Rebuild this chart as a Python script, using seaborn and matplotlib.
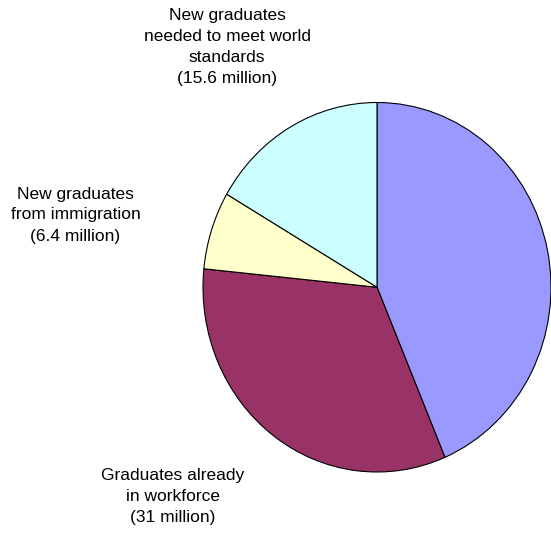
import matplotlib
matplotlib.use("Agg")
import matplotlib.pyplot as plt
import seaborn as sns

sns.set_style("white")
plt.rcParams['font.family'] = ['Liberation Sans', 'DejaVu Sans']

# Data (millions)
categories = ["Remaining graduates",
              "Graduates already\nin workforce\n(31 million)",
              "New graduates\nfrom immigration\n(6.4 million)",
              "New graduates\nneeded to meet world\nstandards\n(15.6 million)"]
values = [41.0, 31.0, 6.4, 15.6]
colors = ["#9999FF", "#993366", "#FFFFCC", "#CCFFFF"]

W, H = 551, 533
fig = plt.figure(figsize=(W / 100, H / 100), dpi=100)

# pie area (slightly taller than wide, as in the reference)
left, right, top, bottom = 203, 551, 102.5, 472
ax = fig.add_axes([left / W, (H - bottom) / H, (right - left) / W, (bottom - top) / H])
ax.pie(values, colors=colors, startangle=90, counterclock=False,
       wedgeprops=dict(edgecolor="black", linewidth=0.8))
ax.set_aspect('auto')
ax.set_xlim(-1.0, 1.0)
ax.set_ylim(-1.0, 1.0)
ax.axis('off')

# labels (pixel positions of block centres)
label_pos = {3: (227, 47), 2: (75.5, 215), 1: (172.5, 496.4)}
for i, (px, py) in label_pos.items():
    fig.text(px / W, 1 - py / H, categories[i], ha='center', va='center',
             fontsize=12.5, linespacing=1.5, color='black')

fig.savefig("out.png", dpi=100)
